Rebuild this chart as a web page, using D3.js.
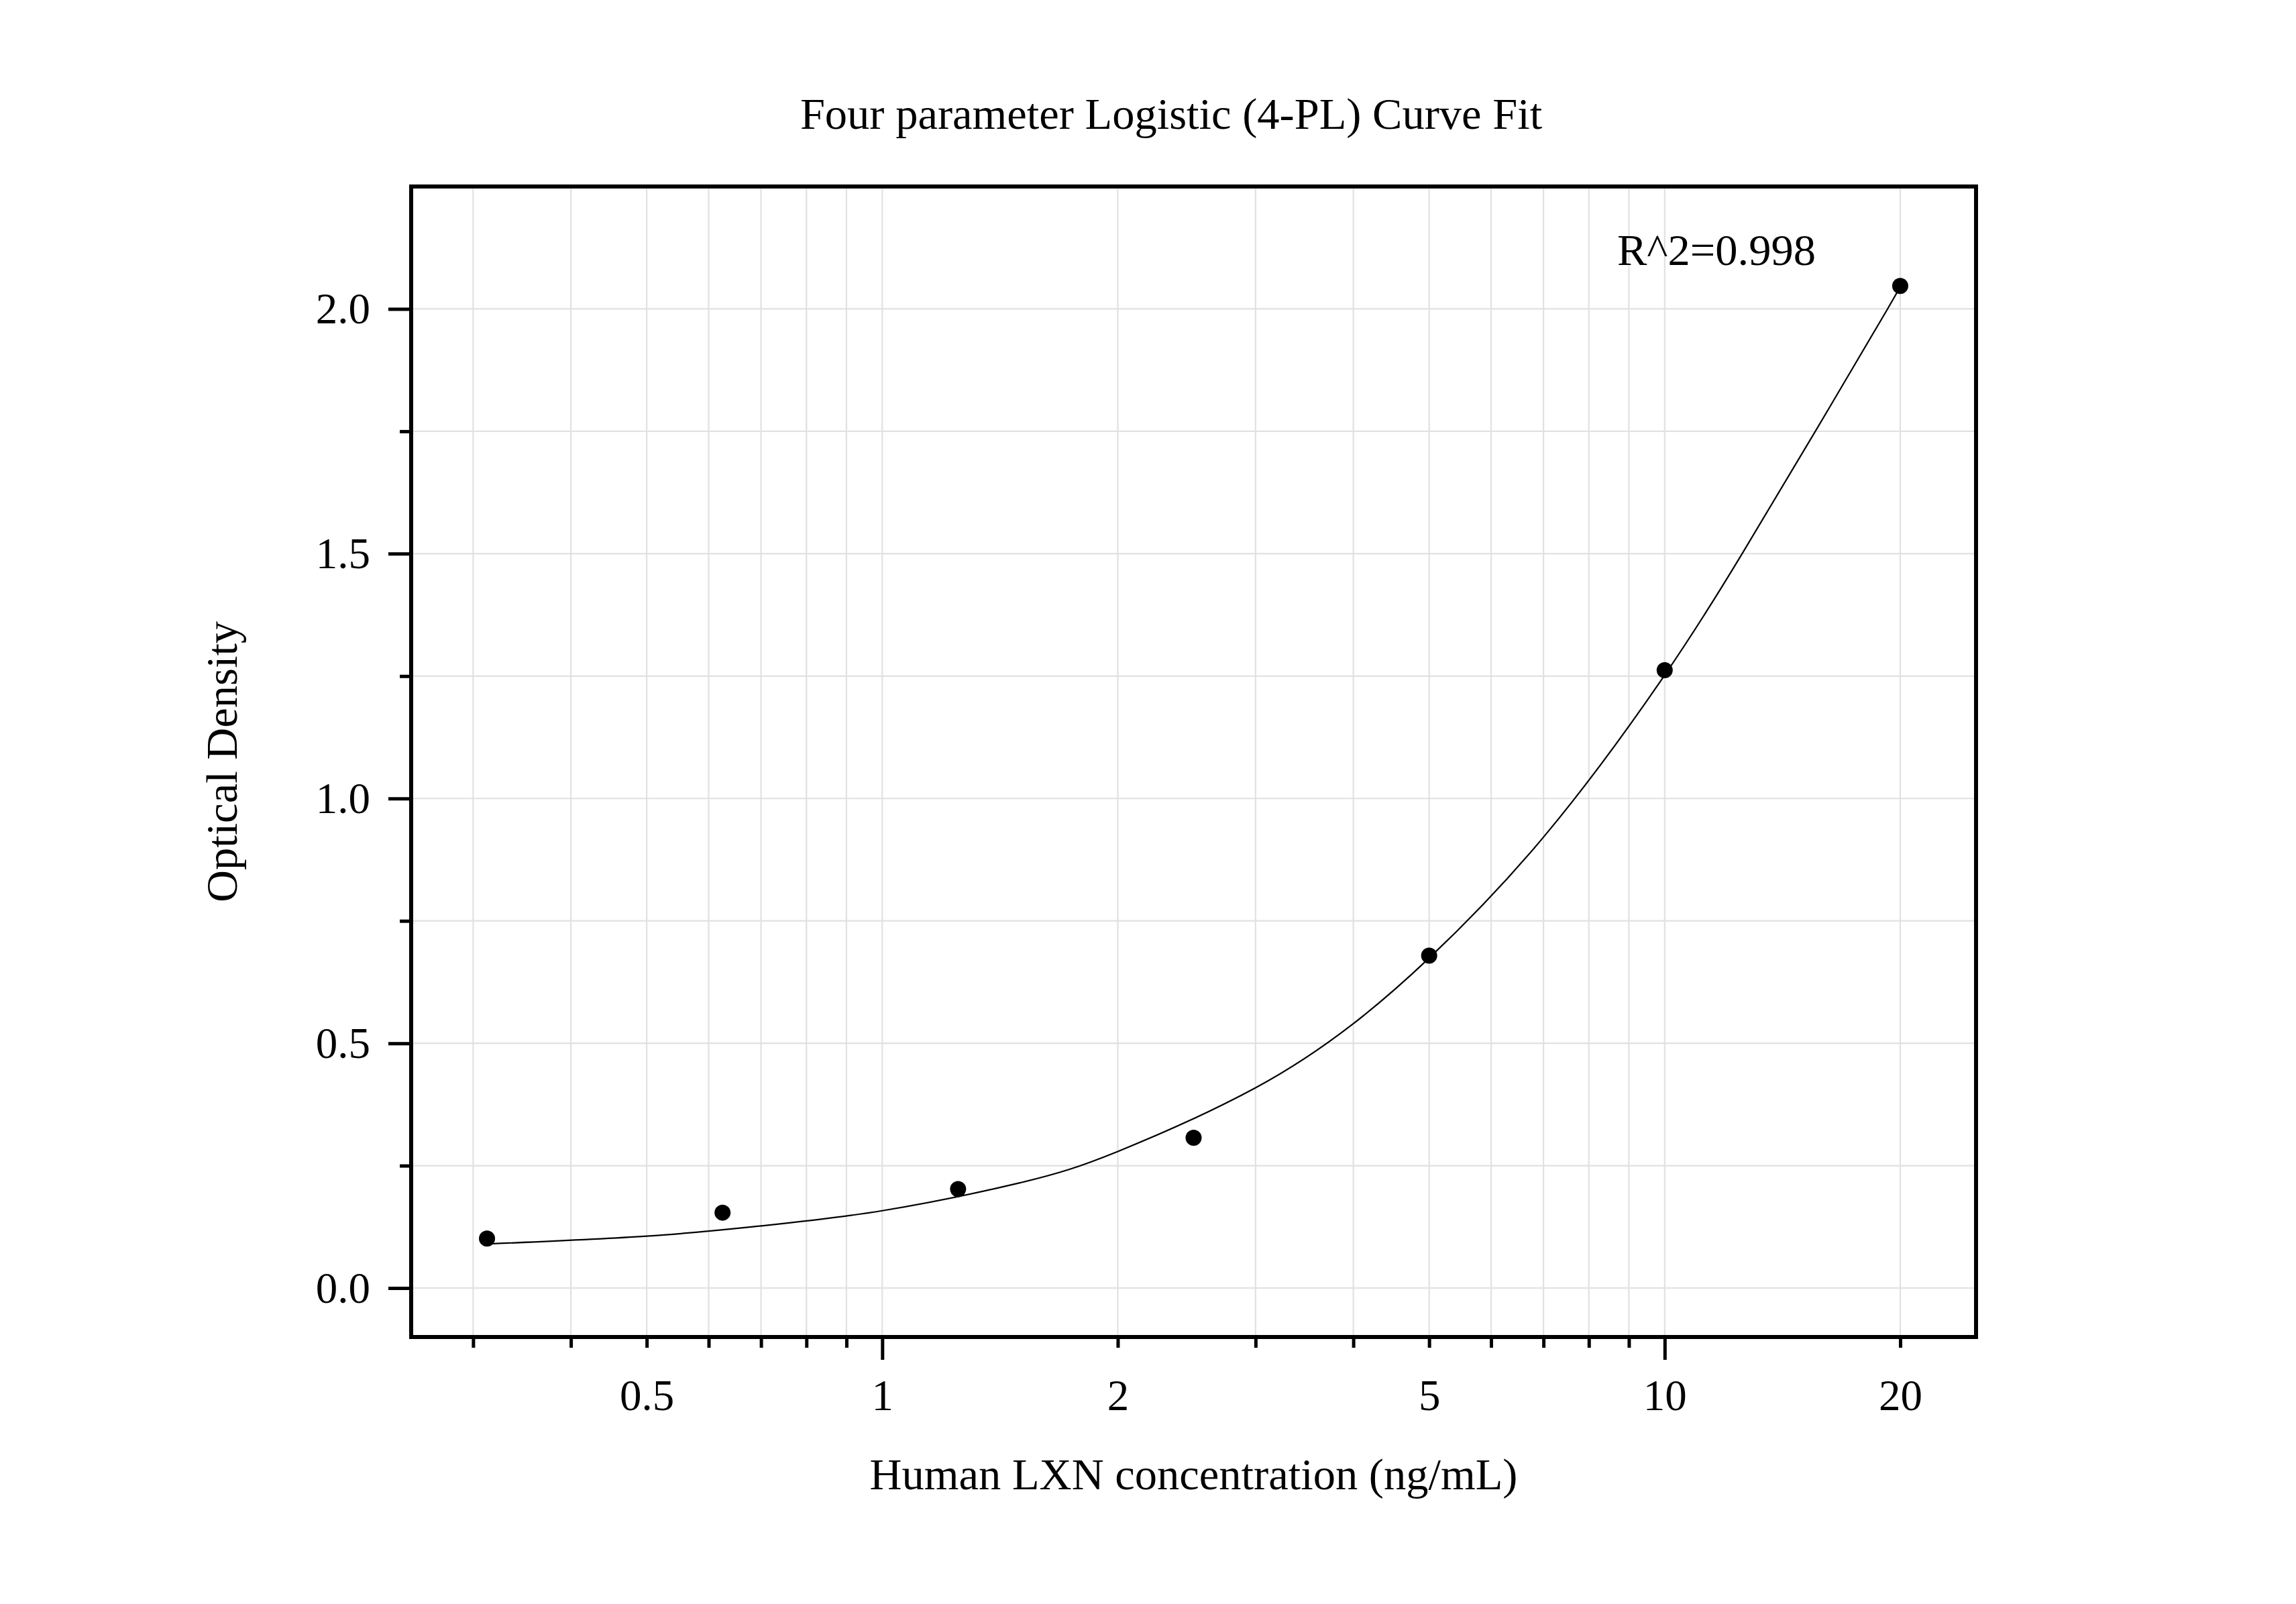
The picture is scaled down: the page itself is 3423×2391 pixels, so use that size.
<!DOCTYPE html>
<html lang="en">
  <head>
    <meta charset="utf-8">
    <title>4-PL curve fit</title>
    <style>
      body { margin: 0; background: #fff; }
      text { font-family: "Liberation Serif", "Times New Roman", serif; fill: #000; }
    </style>
  </head>
  <body>
    <div id="chart"></div>

    <script src="https://d3js.org/d3.v7.min.js"></script>
    <script>

    // measured standards (concentration, OD)
    var concentrations = [0.3125, 0.625, 1.25, 2.5, 5, 10, 20];
    var odValues = [0.101, 0.154, 0.202, 0.307, 0.679, 1.262, 2.047];

    // fitted curve
    var curveX = [0.3125, 0.5, 0.7, 1, 1.5, 2, 3, 4, 5, 7, 10, 12.56, 15.58, 19.27, 20];
    var curveY = [0.090, 0.106, 0.127, 0.158, 0.215, 0.279, 0.409, 0.540, 0.674, 0.921, 1.252, 1.500, 1.750, 2.000, 2.047];

    // ticks
    var xLabelTicks = [0.5, 1, 2, 5, 10, 20];
    var xMajorTicks = [1, 10];
    var xMinorTicks = [0.3, 0.4, 0.5, 0.6, 0.7, 0.8, 0.9, 2, 3, 4, 5, 6, 7, 8, 9, 20];
    var yMajorTicks = [0, 0.5, 1.0, 1.5, 2.0];
    var yMinorTicks = [0.25, 0.75, 1.25, 1.75];

    var titleText = "Four parameter Logistic (4-PL) Curve Fit";
    var xTitle = "Human LXN concentration (ng/mL)";
    var yTitle = "Optical Density";
    var r2Text = "R^2=0.998";

    var W = 3423, H = 2391;
    var margin = {top: 278, right: 477, bottom: 398, left: 613};
    var width = W - margin.left - margin.right,
        height = H - margin.top - margin.bottom;
    var fontSize = 66.5,
        tickFontSize = 65;

    var svg = d3.select("#chart")
      .append("svg")
        .attr("width", W)
        .attr("height", H);

    var g = svg.append("g")
        .attr("transform", "translate(" + margin.left + "," + margin.top + ")");

    var x = d3.scaleLog().domain([0.25, 25]).range([0, width]);
    var y = d3.scaleLinear().domain([-0.1, 2.25]).range([height, 0]);

    // grid
    var gridX = xMajorTicks.concat(xMinorTicks);
    var gridY = yMajorTicks.concat(yMinorTicks);
    g.append("g")
      .selectAll("line")
      .data(gridX)
      .enter()
      .append("line")
        .attr("x1", function(d){ return x(d) })
        .attr("x2", function(d){ return x(d) })
        .attr("y1", 0)
        .attr("y2", height)
        .attr("stroke", "#e1e1e1")
        .attr("stroke-width", 2.2);
    g.append("g")
      .selectAll("line")
      .data(gridY)
      .enter()
      .append("line")
        .attr("x1", 0)
        .attr("x2", width)
        .attr("y1", function(d){ return y(d) })
        .attr("y2", function(d){ return y(d) })
        .attr("stroke", "#e1e1e1")
        .attr("stroke-width", 2.2);

    // ticks through d3 axes
    function styleTicks(sel) {
      sel.select(".domain").remove();
      sel.selectAll(".tick line").attr("stroke", "#000").attr("stroke-width", 5);
      sel.selectAll(".tick text").remove();
    }

    g.append("g")
      .attr("transform", "translate(0," + height + ")")
      .call(d3.axisBottom(x).tickValues(xMinorTicks).tickSize(16).tickFormat(""))
      .call(styleTicks);
    g.append("g")
      .attr("transform", "translate(0," + height + ")")
      .call(d3.axisBottom(x).tickValues(xMajorTicks).tickSize(34).tickFormat(""))
      .call(styleTicks);
    g.append("g")
      .call(d3.axisLeft(y).tickValues(yMinorTicks).tickSize(17).tickFormat(""))
      .call(styleTicks);
    g.append("g")
      .call(d3.axisLeft(y).tickValues(yMajorTicks).tickSize(34).tickFormat(""))
      .call(styleTicks);

    // tick labels
    var xl = g.append("g")
      .attr("transform", "translate(0," + height + ")")
      .call(d3.axisBottom(x).tickValues(xLabelTicks).tickSize(0).tickFormat(d3.format("~g")));
    xl.select(".domain").remove();
    xl.selectAll(".tick text")
      .attr("y", 109)
      .attr("dy", 0)
      .attr("font-size", tickFontSize)
      .attr("font-family", "Liberation Serif, Times New Roman, serif");

    var yl = g.append("g")
      .call(d3.axisLeft(y).tickValues(yMajorTicks).tickSize(0).tickFormat(d3.format(".1f")));
    yl.select(".domain").remove();
    yl.selectAll(".tick text")
      .attr("x", -61)
      .attr("dy", "0.33em")
      .attr("font-size", tickFontSize)
      .attr("font-family", "Liberation Serif, Times New Roman, serif");

    // fitted curve
    var curveData = curveX.map(function(d, i){ return [d, curveY[i]] });
    g.append("path")
      .datum(curveData)
      .attr("fill", "none")
      .attr("stroke", "#000")
      .attr("stroke-width", 2.2)
      .attr("d", d3.line()
        .x(function(d){ return x(d[0]) })
        .y(function(d){ return y(d[1]) })
        .curve(d3.curveNatural));

    // points
    g.append("g")
      .selectAll("circle")
      .data(concentrations)
      .enter()
      .append("circle")
        .attr("cx", function(d){ return x(d) })
        .attr("cy", function(d, i){ return y(odValues[i]) })
        .attr("r", 12)
        .attr("fill", "#000");

    // frame
    g.append("rect")
      .attr("x", 0)
      .attr("y", 0)
      .attr("width", width)
      .attr("height", height)
      .attr("fill", "none")
      .attr("stroke", "#000")
      .attr("stroke-width", 6);

    // texts
    svg.append("text")
      .attr("x", 1746)
      .attr("y", 192)
      .attr("text-anchor", "middle")
      .attr("font-size", fontSize)
      .text(titleText);

    svg.append("text")
      .attr("x", margin.left + width / 2)
      .attr("y", 2220)
      .attr("text-anchor", "middle")
      .attr("font-size", fontSize)
      .text(xTitle);

    svg.append("text")
      .attr("transform", "translate(353," + (margin.top + height / 2) + ") rotate(-90)")
      .attr("text-anchor", "middle")
      .attr("font-size", fontSize)
      .text(yTitle);

    svg.append("text")
      .attr("x", 2411)
      .attr("y", 395)
      .attr("font-size", fontSize)
      .text(r2Text);

    </script>
  </body>
</html>
